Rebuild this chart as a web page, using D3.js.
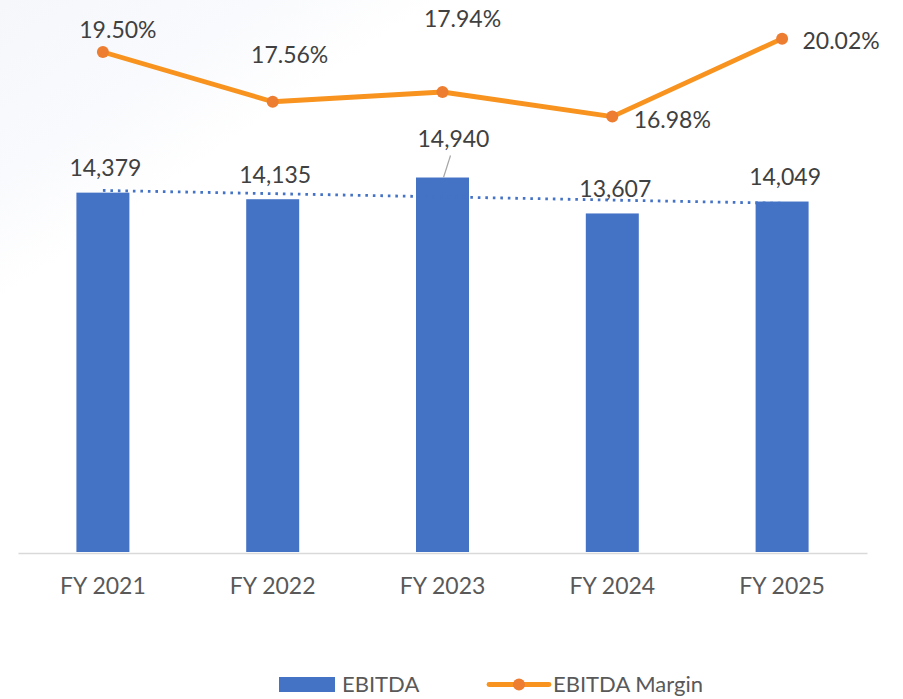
<!DOCTYPE html>
<html>
<head>
<meta charset="utf-8">
<script src="https://cdn.jsdelivr.net/npm/d3@7"></script>
<style>
  html, body { margin: 0; padding: 0; background: #ffffff; }
  svg { display: block; font-family: Lato, "Open Sans", sans-serif; }
</style>
</head>
<body>
<svg id="chart" width="903" height="699"></svg>
<script>
// ---- data ----
const categories = ["FY 2021", "FY 2022", "FY 2023", "FY 2024", "FY 2025"];
const ebitda = [14379, 14135, 14940, 13607, 14049];
const ebitdaMargin = [19.50, 17.56, 17.94, 16.98, 20.02];
const seriesNames = ["EBITDA", "EBITDA Margin"];

// ---- label placement (pixel nudges, presentation only) ----
const barLabelNudge = [[2.5, 0], [2.5, 0], [11, -14], [3, 0], [3, 0]];
const marginLabelNudge = [[15, -14], [17, -39], [20, -65], [60, 11], [59, 10]];

const svg = d3.select("#chart");
const W = 903, H = 699;

// faint background tint in the top-left corner
const defs = svg.append("defs");
const grad = defs.append("linearGradient").attr("id", "bgTint")
  .attr("x1", "0").attr("y1", "0").attr("x2", "0.5").attr("y2", "0.5");
grad.append("stop").attr("offset", "0%").attr("stop-color", "#f6f7fb");
grad.append("stop").attr("offset", "60%").attr("stop-color", "#f9fafd");
grad.append("stop").attr("offset", "100%").attr("stop-color", "#ffffff");
svg.append("rect").attr("width", W).attr("height", H).attr("fill", "#ffffff");
svg.append("path")
  .attr("d", "M0,0 L440,0 L0,300 Z")
  .attr("fill", "url(#bgTint)");

// ---- scales ----
const x = d3.scaleBand().domain(categories).range([18, 867]).padding(0);
const barW = x.bandwidth() * 0.312;
const cx = c => x(c) + x.bandwidth() / 2;
const yBar = d3.scaleLinear().domain([1050, 21450]).range([552, 2]);
const yPct = d3.scaleLinear().domain([0, 21.45]).range([552, 2]);

// ---- bars ----
svg.append("g").selectAll("rect").data(categories).join("rect")
  .attr("x", c => cx(c) - barW / 2)
  .attr("y", (c, i) => yBar(ebitda[i]))
  .attr("width", barW)
  .attr("height", (c, i) => yBar.range()[0] - yBar(ebitda[i]))
  .attr("fill", "#4472C4");

// ---- x axis ----
const xAxis = d3.axisBottom(x).tickSize(0).tickPadding(25);
const gx = svg.append("g").attr("transform", "translate(0,553)").call(xAxis);
gx.select(".domain").attr("stroke", "#d9d9d9").attr("stroke-width", 1.5);
gx.selectAll("text")
  .attr("fill", "#595959")
  .style("font-family", "Lato, sans-serif")
  .style("font-size", "23px");

// ---- linear trend line of EBITDA ----
const n = ebitda.length;
const xs = d3.range(1, n + 1);
const mx = d3.mean(xs), my = d3.mean(ebitda);
const slope = d3.sum(xs, (v, i) => (v - mx) * (ebitda[i] - my)) / d3.sum(xs, v => (v - mx) ** 2);
const icpt = my - slope * mx;
svg.append("line")
  .attr("x1", cx(categories[0]))
  .attr("y1", yBar(icpt + slope * 1))
  .attr("x2", cx(categories[n - 1]))
  .attr("y2", yBar(icpt + slope * n))
  .attr("stroke", "#4472C4")
  .attr("stroke-width", 2.8)
  .attr("stroke-dasharray", "2.6 4.9");

// ---- bar value labels ----
const fmt = d3.format(",");
svg.append("g").selectAll("text").data(categories).join("text")
  .attr("x", (c, i) => cx(c) + barLabelNudge[i][0])
  .attr("y", (c, i) => yBar(ebitda[i]) - 16.5 + barLabelNudge[i][1])
  .attr("text-anchor", "middle")
  .attr("fill", "#404040")
  .style("font-size", "23px")
  .text((c, i) => fmt(ebitda[i]));

// leader line for moved label (FY 2023)
{
  const i = 2, c = categories[i];
  const top = yBar(ebitda[i]);
  svg.append("line")
    .attr("x1", cx(c) + 1)
    .attr("y1", top)
    .attr("x2", cx(c) + 8)
    .attr("y2", top - 22)
    .attr("stroke", "#a6a6a6")
    .attr("stroke-width", 1.2);
}

// ---- margin line ----
const line = d3.line()
  .x((d, i) => cx(categories[i]))
  .y(d => yPct(d));
svg.append("path")
  .datum(ebitdaMargin)
  .attr("d", line)
  .attr("fill", "none")
  .attr("stroke", "#F7931E")
  .attr("stroke-width", 4.8)
  .attr("stroke-linejoin", "round");
svg.append("g").selectAll("circle").data(ebitdaMargin).join("circle")
  .attr("cx", (d, i) => cx(categories[i]))
  .attr("cy", d => yPct(d))
  .attr("r", 6)
  .attr("fill", "#ED7D31");

svg.append("g").selectAll("text").data(ebitdaMargin).join("text")
  .attr("x", (d, i) => cx(categories[i]) + marginLabelNudge[i][0])
  .attr("y", (d, i) => yPct(d) + marginLabelNudge[i][1])
  .attr("text-anchor", "middle")
  .attr("fill", "#404040")
  .style("font-size", "23px")
  .text(d => d.toFixed(2) + "%");

// ---- legend ----
const lg = svg.append("g");
lg.append("rect").attr("x", 279).attr("y", 677).attr("width", 56).attr("height", 15).attr("fill", "#4472C4");
lg.append("text").attr("x", 342).attr("y", 692).attr("fill", "#595959")
  .style("font-size", "22px").text(seriesNames[0]);
lg.append("line").attr("x1", 489).attr("y1", 684.5).attr("x2", 549).attr("y2", 684.5)
  .attr("stroke", "#F7931E").attr("stroke-width", 4.8).attr("stroke-linecap", "round");
lg.append("circle").attr("cx", 519).attr("cy", 684.5).attr("r", 6).attr("fill", "#ED7D31");
lg.append("text").attr("x", 553).attr("y", 692).attr("fill", "#595959")
  .style("font-size", "22px").text(seriesNames[1]);
</script>
</body>
</html>
